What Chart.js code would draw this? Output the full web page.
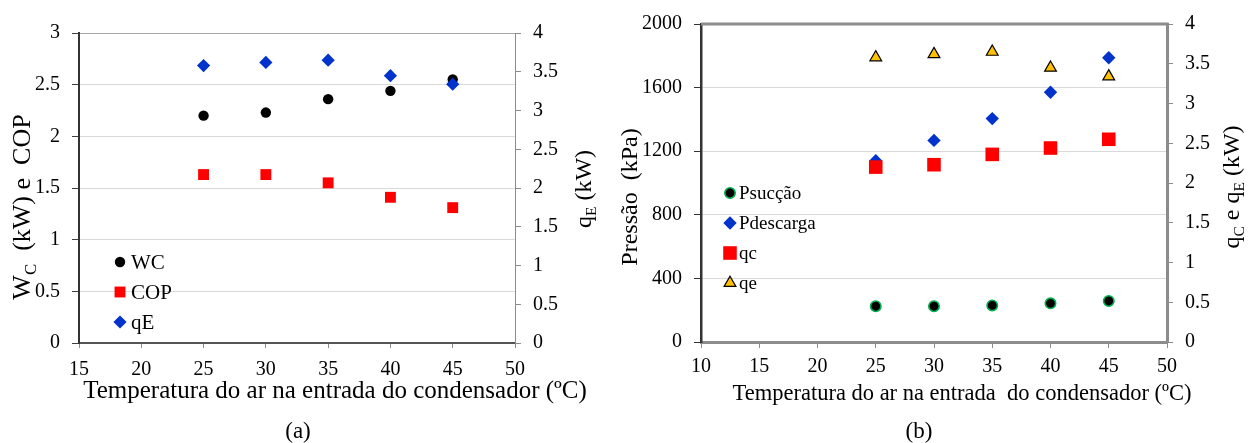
<!DOCTYPE html>
<html>
<head>
<meta charset="utf-8">
<script src="https://cdn.jsdelivr.net/npm/chart.js@4.4.0/dist/chart.umd.min.js"></script>
<style>
  html, body { margin: 0; padding: 0; background: #fff; }
  body { width: 1254px; height: 443px; position: relative; overflow: hidden; }
  .panel { position: absolute; top: 0; }
  #panelA { left: 0; width: 600px; height: 443px; }
  #panelB { left: 600px; width: 654px; height: 443px; }
</style>
</head>
<body>
<div class="panel" id="panelA"><canvas id="chartA" width="600" height="443"></canvas></div>
<div class="panel" id="panelB"><canvas id="chartB" width="654" height="443"></canvas></div>
<script>
// Air temperature at the condenser inlet (ºC)
const temperatures = [25, 30, 35, 40, 45];

// (a) compressor power (kW), COP and evaporator capacity (kW)
const wcValues  = [2.20, 2.23, 2.36, 2.44, 2.55];
const copValues = [1.63, 1.63, 1.55, 1.41, 1.31];
const qEValues  = [3.58, 3.62, 3.65, 3.45, 3.34];

// (b) suction / discharge pressure (kPa), condenser and evaporator heat (kW)
const pSuccao   = [225, 225, 230, 243, 258];
const pDescarga = [1140, 1268, 1405, 1571, 1788];
const qcValues  = [2.20, 2.23, 2.36, 2.44, 2.55];
const qeValues  = [3.58, 3.62, 3.65, 3.45, 3.34];

// Tick values
const xTicksA  = [15, 20, 25, 30, 35, 40, 45, 50];
const yTicksA  = [0, 0.5, 1, 1.5, 2, 2.5, 3];
const y2TicksA = [0, 0.5, 1, 1.5, 2, 2.5, 3, 3.5, 4];
const xTicksB  = [10, 15, 20, 25, 30, 35, 40, 45, 50];
const yTicksB  = [0, 400, 800, 1200, 1600, 2000];
const y2TicksB = [0, 0.5, 1, 1.5, 2, 2.5, 3, 3.5, 4];

const SERIF = "'Liberation Serif', 'Times New Roman', serif";
Chart.defaults.font.family = SERIF;
Chart.defaults.color = '#000';

const toPoints = ys => temperatures.map((t, i) => ({ x: t, y: ys[i] }));
const useTicks = list => scale => { scale.ticks = list.map(v => ({ value: v })); };

function markerPath(ctx, style, x, y, r) {
  ctx.beginPath();
  if (style === 'circle') {
    ctx.arc(x, y, r, 0, Math.PI * 2);
  } else if (style === 'rect') {
    const s = r * Math.SQRT1_2;
    ctx.rect(x - s, y - s, 2 * s, 2 * s);
  } else if (style === 'rectRot') {
    ctx.moveTo(x - r, y); ctx.lineTo(x, y - r); ctx.lineTo(x + r, y); ctx.lineTo(x, y + r);
    ctx.closePath();
  } else if (style === 'triangle') {
    ctx.moveTo(x, y - r);
    ctx.lineTo(x + r * Math.sin(Math.PI * 2 / 3), y + r * 0.5);
    ctx.lineTo(x - r * Math.sin(Math.PI * 2 / 3), y + r * 0.5);
    ctx.closePath();
  }
}

// Legend drawn inside the plot area, one row per dataset
const insideLegend = {
  id: 'insideLegend',
  afterDraw(chart, args, opts) {
    const ctx = chart.ctx;
    ctx.save();
    chart.data.datasets.forEach((ds, i) => {
      const x = opts.x, y = opts.rows[i];
      markerPath(ctx, ds.pointStyle, x, y, ds.pointRadius);
      ctx.fillStyle = ds.pointBackgroundColor;
      ctx.fill();
      if (ds.pointBorderWidth > 0) {
        ctx.lineWidth = ds.pointBorderWidth;
        ctx.strokeStyle = ds.pointBorderColor;
        ctx.stroke();
      }
      ctx.fillStyle = '#000';
      ctx.font = opts.fontSize + 'px ' + SERIF;
      ctx.textAlign = 'left';
      ctx.textBaseline = 'middle';
      ctx.fillText(ds.label, x + opts.gap, y + 1);
    });
    ctx.restore();
  }
};

// Axis titles and panel captions, with subscript support
const captions = {
  id: 'captions',
  afterDraw(chart, args, opts) {
    const ctx = chart.ctx;
    (opts.items || []).forEach(item => {
      ctx.save();
      ctx.translate(item.x, item.y);
      ctx.rotate(item.rot || 0);
      ctx.fillStyle = '#000';
      ctx.textBaseline = 'alphabetic';
      ctx.textAlign = 'left';
      const sz = item.size;
      let total = 0;
      item.parts.forEach(p => {
        ctx.font = (p[1] ? sz * 0.65 : sz) + 'px ' + SERIF;
        total += ctx.measureText(p[0]).width;
      });
      let cx = -total / 2;
      item.parts.forEach(p => {
        ctx.font = (p[1] ? sz * 0.65 : sz) + 'px ' + SERIF;
        ctx.fillText(p[0], cx, p[1] ? sz * 0.22 : 0);
        cx += ctx.measureText(p[0]).width;
      });
      ctx.restore();
    });
  }
};

// Grey frame line along the top of the plot area
const topFrame = {
  id: 'topFrame',
  beforeDatasetsDraw(chart, args, opts) {
    if (!opts.width) return;
    const { ctx, chartArea: a } = chart;
    ctx.save();
    ctx.strokeStyle = opts.color;
    ctx.lineWidth = opts.width;
    ctx.beginPath();
    ctx.moveTo(a.left, a.top);
    ctx.lineTo(a.right + opts.width / 2, a.top);
    ctx.stroke();
    ctx.restore();
  }
};

const tickFont = { size: 20, family: SERIF };
const label = v => String(v);

new Chart(document.getElementById('chartA'), {
  type: 'scatter',
  data: {
    datasets: [
      { label: 'WC', data: toPoints(wcValues), yAxisID: 'y', order: 2,
        pointStyle: 'circle', pointRadius: 5.2, pointHoverRadius: 5.2,
        pointBackgroundColor: '#000', pointBorderColor: '#000', pointBorderWidth: 0 },
      { label: 'COP', data: toPoints(copValues), yAxisID: 'y', order: 1,
        pointStyle: 'rect', pointRadius: 7.7, pointHoverRadius: 7.7,
        pointBackgroundColor: '#ff0000', pointBorderColor: '#ff0000', pointBorderWidth: 0 },
      { label: 'qE', data: toPoints(qEValues), yAxisID: 'y2', order: 0,
        pointStyle: 'rectRot', pointRadius: 6.6, pointHoverRadius: 6.6,
        pointBackgroundColor: '#0033cc', pointBorderColor: '#0033cc', pointBorderWidth: 0 }
    ]
  },
  options: {
    responsive: false, animation: false, events: [],
    layout: { padding: { top: 33, left: 0, right: 0, bottom: 0 } },
    plugins: {
      legend: { display: false }, tooltip: { enabled: false },
      insideLegend: { x: 120, rows: [262, 292, 322], gap: 11, fontSize: 21 },
      topFrame: { width: 0 },
      captions: { items: [
        { parts: [['W'], ['C', true], ['  (kW) e  COP']], x: 30, y: 207, rot: -Math.PI / 2, size: 26 },
        { parts: [['q'], ['E', true], [' (kW)']], x: 591, y: 189, rot: -Math.PI / 2, size: 24 },
        { parts: [['Temperatura do ar na entrada do condensador (ºC)']], x: 335, y: 398, size: 25 },
        { parts: [['(a)']], x: 298, y: 438, size: 23 }
      ] }
    },
    scales: {
      x: {
        type: 'linear', position: 'bottom', min: 15, max: 50,
        afterBuildTicks: useTicks(xTicksA),
        afterFit: s => { s.height = 100; },
        ticks: { font: tickFont, color: '#000', padding: 10, callback: label, autoSkip: false, maxRotation: 0 },
        grid: { drawOnChartArea: false, drawTicks: true, tickLength: 5, tickColor: '#8c8c8c' },
        border: { color: '#555', width: 2 }
      },
      y: {
        type: 'linear', position: 'left', min: 0, max: 3,
        afterBuildTicks: useTicks(yTicksA),
        afterFit: s => { s.width = 79; },
        ticks: { font: tickFont, color: '#000', padding: 12, callback: label },
        grid: {
          color: c => c.tick.value === 0 ? 'rgba(0,0,0,0)' : (c.tick.value === 3 ? '#a6a6a6' : '#d9d9d9'),
          lineWidth: 1, tickLength: 7, tickColor: '#404040'
        },
        border: { color: '#333', width: 2 }
      },
      y2: {
        type: 'linear', position: 'right', min: 0, max: 4,
        afterBuildTicks: useTicks(y2TicksA),
        afterFit: s => { s.width = 85; },
        ticks: { font: tickFont, color: '#000', padding: 12, callback: label },
        grid: { drawOnChartArea: false, tickLength: 6, tickColor: '#8c8c8c' },
        border: { color: '#8c8c8c', width: 1 }
      }
    }
  },
  plugins: [insideLegend, captions, topFrame]
});

new Chart(document.getElementById('chartB'), {
  type: 'scatter',
  data: {
    datasets: [
      { label: 'Psucção', data: toPoints(pSuccao), yAxisID: 'y', order: 3,
        pointStyle: 'circle', pointRadius: 5.2, pointHoverRadius: 5.2,
        pointBackgroundColor: '#000', pointBorderColor: '#00b050', pointBorderWidth: 1.6 },
      { label: 'Pdescarga', data: toPoints(pDescarga), yAxisID: 'y', order: 2,
        pointStyle: 'rectRot', pointRadius: 6.7, pointHoverRadius: 6.7,
        pointBackgroundColor: '#0033cc', pointBorderColor: '#0033cc', pointBorderWidth: 0 },
      { label: 'qc', data: toPoints(qcValues), yAxisID: 'y2', order: 1,
        pointStyle: 'rect', pointRadius: 9.6, pointHoverRadius: 9.6,
        pointBackgroundColor: '#ff0000', pointBorderColor: '#ff0000', pointBorderWidth: 0 },
      { label: 'qe', data: toPoints(qeValues), yAxisID: 'y2', order: 0,
        pointStyle: 'triangle', pointRadius: 6.8, pointHoverRadius: 6.8,
        pointBackgroundColor: '#ffc000', pointBorderColor: '#000', pointBorderWidth: 1.2 }
    ]
  },
  options: {
    responsive: false, animation: false, events: [],
    layout: { padding: { top: 20, left: 0, right: 0, bottom: 0 } },
    plugins: {
      legend: { display: false }, tooltip: { enabled: false },
      insideLegend: { x: 130, rows: [193, 223, 253, 283], gap: 9, fontSize: 19 },
      topFrame: { width: 3, color: '#8c8c8c' },
      captions: { items: [
        { parts: [['Pressão  (kPa)']], x: 37, y: 197, rot: -Math.PI / 2, size: 24 },
        { parts: [['q'], ['C', true], [' e q'], ['E', true], [' (kW)']], x: 639, y: 187, rot: -Math.PI / 2, size: 24 },
        { parts: [['Temperatura do ar na entrada  do condensador (ºC)']], x: 362, y: 400, size: 22.5 },
        { parts: [['(b)']], x: 319, y: 438, size: 23 }
      ] }
    },
    scales: {
      x: {
        type: 'linear', position: 'bottom', min: 10, max: 50,
        afterBuildTicks: useTicks(xTicksB),
        afterFit: s => { s.height = 101; },
        ticks: { font: tickFont, color: '#000', padding: 7, callback: label, autoSkip: false, maxRotation: 0 },
        grid: { drawOnChartArea: false, drawTicks: true, tickLength: 6, tickColor: '#8c8c8c' },
        border: { color: '#8c8c8c', width: 3 }
      },
      y: {
        type: 'linear', position: 'left', min: 0, max: 2000,
        afterBuildTicks: useTicks(yTicksB),
        afterFit: s => { s.width = 101; },
        ticks: { font: tickFont, color: '#000', padding: 12, callback: label },
        grid: {
          color: c => (c.tick.value === 0 || c.tick.value === 2000) ? 'rgba(0,0,0,0)' : '#d9d9d9',
          lineWidth: 1, tickLength: 7, tickColor: '#333'
        },
        border: { color: '#333', width: 2.5 }
      },
      y2: {
        type: 'linear', position: 'right', min: 0, max: 4,
        afterBuildTicks: useTicks(y2TicksB),
        afterFit: s => { s.width = 87; },
        ticks: { font: tickFont, color: '#000', padding: 12, callback: label },
        grid: { drawOnChartArea: false, tickLength: 6, tickColor: '#8c8c8c' },
        border: { color: '#8c8c8c', width: 3 }
      }
    }
  },
  plugins: [insideLegend, captions, topFrame]
});
</script>
</body>
</html>
